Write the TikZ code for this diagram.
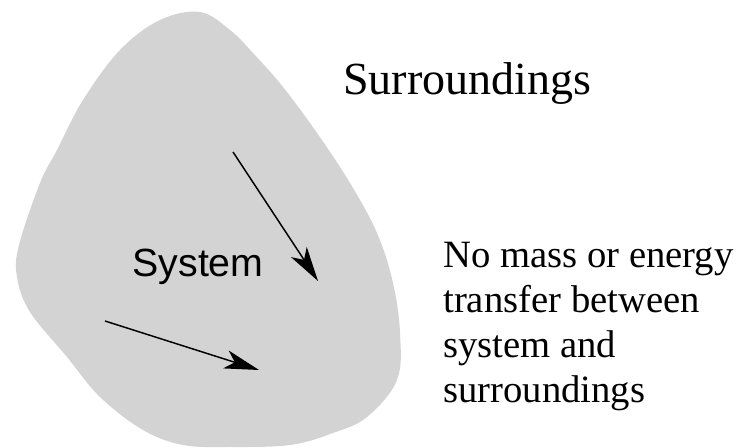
\documentclass[tikz,border=0pt]{standalone}
\usepackage{fontspec}
\setmainfont{Liberation Serif}
\setsansfont{Liberation Sans}
\usetikzlibrary{arrows.meta}

\definecolor{blobgray}{RGB}{211,211,211}

\tikzset{
  flow/.style={line width=1.1pt, -{Stealth[length=26pt, width=14pt, inset=7pt]}},
  note/.style={inner sep=0pt, font=\fontsize{29}{33.75}\selectfont, align=left},
}

\begin{document}
\begin{tikzpicture}[x=0.75pt,y=0.75pt,yscale=-1,xscale=1]
\useasboundingbox (0,0) rectangle (746,448);

%Shape: system region
\fill [blobgray] plot [smooth cycle, tension=0.6] coordinates {
  (200,12) (230,30) (253,53) (283,87) (317,133) (350,183) (377,233)
  (393,283) (400,333) (397,380) (367,417) (333,433) (290,445)
  (230,447) (183,445) (143,430) (100,397) (67,357) (30,312)
  (17,277) (19,245) (40,183) (57,150) (83,100) (120,50) (160,20)
};

%Arrows inside the system
\coordinate (a1) at (233,152);
\coordinate (b1) at (318,281);
\coordinate (a2) at (105,321);
\coordinate (b2) at (259,370);
\draw [flow] (a1) -- (b1);
\draw [flow] (a2) -- (b2);

% Text Node
\node (sys) [anchor=base, inner sep=0pt, font=\sffamily\fontsize{29.5}{34}\selectfont] at (198,277) {System};
% Text Node
\node (surr) [note, anchor=base west, font=\fontsize{34.5}{40}\selectfont] at (343,95) {Surroundings};
% Text Node
\node (nomass) [note, anchor=base west] at (443,403) {No mass or energy\\transfer between\\system and\\surroundings};

\end{tikzpicture}
\end{document}
